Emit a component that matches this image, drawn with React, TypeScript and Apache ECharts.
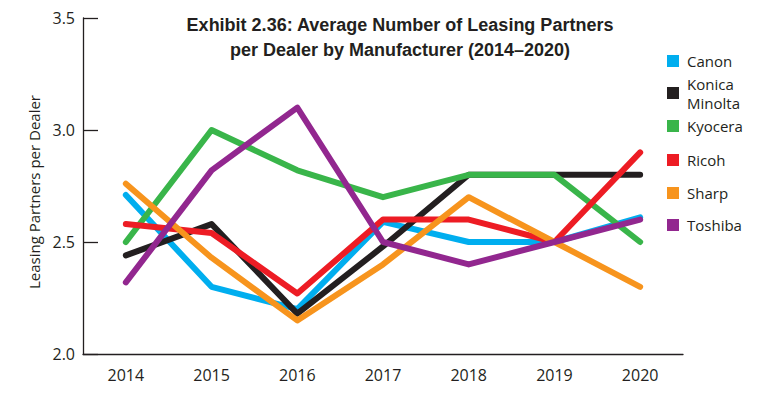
import React, { useEffect, useRef } from "react";
import * as echarts from "echarts";

const years = ["2014", "2015", "2016", "2017", "2018", "2019", "2020"];
const seriesNames = ["Canon", "Konica Minolta", "Kyocera", "Ricoh", "Sharp", "Toshiba"];
const canon = [2.71, 2.3, 2.2, 2.59, 2.5, 2.5, 2.61];
const konica = [2.44, 2.58, 2.18, 2.48, 2.8, 2.8, 2.8];
const kyocera = [2.5, 3.0, 2.82, 2.7, 2.8, 2.8, 2.5];
const ricoh = [2.58, 2.54, 2.27, 2.6, 2.6, 2.5, 2.9];
const sharp = [2.76, 2.43, 2.15, 2.4, 2.7, 2.5, 2.3];
const toshiba = [2.32, 2.82, 3.1, 2.5, 2.4, 2.5, 2.6];
const colors = ["#00AEEF", "#231F20", "#39B54A", "#ED1C24", "#F7941D", "#92278F"];
const legendCenters = [61, 93, 126, 160, 193, 225];

const titleText = "Exhibit 2.36: Average Number of Leasing Partners\nper Dealer by Manufacturer (2014–2020)";
const yAxisTitle = "Leasing Partners per Dealer";

export default function App() {
  const ref = useRef<HTMLDivElement>(null);
  useEffect(() => {
    if (!ref.current) return;
    const chart = echarts.init(ref.current, null, { renderer: "svg" });
    const allData = [canon, konica, kyocera, ricoh, sharp, toshiba];
    const font = "'Open Sans', sans-serif";
    const axisColor = "#231F20";
    chart.setOption({
      animation: false,
      backgroundColor: "#ffffff",
      title: {
        text: titleText,
        left: 395,
        top: 7,
        textAlign: "center",
        textStyle: {
          fontFamily: "'Liberation Sans', sans-serif",
          fontWeight: "bold",
          fontSize: 18,
          lineHeight: 25,
          color: "#231F20",
        },
      },
      legend: seriesNames.map((n, i) => {
        const twoLine = n === "Konica Minolta";
        const lh = twoLine ? 19 : 18;
        const h = twoLine ? 2 * lh : lh;
        return {
          data: [n],
          left: 667,
          top: legendCenters[i] - h / 2,
          icon: "rect",
          itemWidth: 12,
          itemHeight: 12,
          itemGap: 0,
          padding: 0,
          formatter: (name: string) => (name === "Konica Minolta" ? "Konica\nMinolta" : name),
          textStyle: {
            fontFamily: font,
            fontSize: 15,
            lineHeight: lh,
            color: "#231F20",
            padding: [0, 0, 0, 3],
          },
        };
      }),
      grid: { left: 83, right: 97, top: 18, bottom: 42, containLabel: false },
      xAxis: {
        type: "category",
        data: years,
        boundaryGap: true,
        axisLine: { lineStyle: { color: axisColor, width: 1.3 } },
        axisTick: { inside: true, length: 9, lineStyle: { color: axisColor, width: 1.3 } },
        axisLabel: { fontFamily: font, fontSize: 16, color: "#231F20", margin: 13 },
        splitLine: { show: false },
      },
      yAxis: {
        type: "value",
        min: 2,
        max: 3.5,
        interval: 0.5,
        name: yAxisTitle,
        nameLocation: "middle",
        nameGap: 38,
        nameTextStyle: { fontFamily: font, fontSize: 15, color: "#231F20", padding: [0, 12, 0, 0] },
        axisLine: { show: true, lineStyle: { color: axisColor, width: 1.3 } },
        axisTick: { show: true, inside: true, length: 15, lineStyle: { color: axisColor, width: 1.3 } },
        axisLabel: {
          fontFamily: font,
          fontSize: 16,
          color: "#231F20",
          margin: 8,
          formatter: (v: number) => v.toFixed(1),
        },
        splitLine: { show: false },
      },
      series: seriesNames.map((n, i) => ({
        name: n,
        type: "line",
        data: allData[i],
        symbol: "none",
        color: colors[i],
        lineStyle: { width: 6, color: colors[i], cap: "round", join: "round" },
        itemStyle: { color: colors[i] },
      })),
    });
    return () => chart.dispose();
  }, []);
  return (
    <div style={{ position: "fixed", left: 0, top: 0, width: 780, height: 396, background: "#fff" }}>
      <div ref={ref} style={{ width: 780, height: 396 }} />
    </div>
  );
}
